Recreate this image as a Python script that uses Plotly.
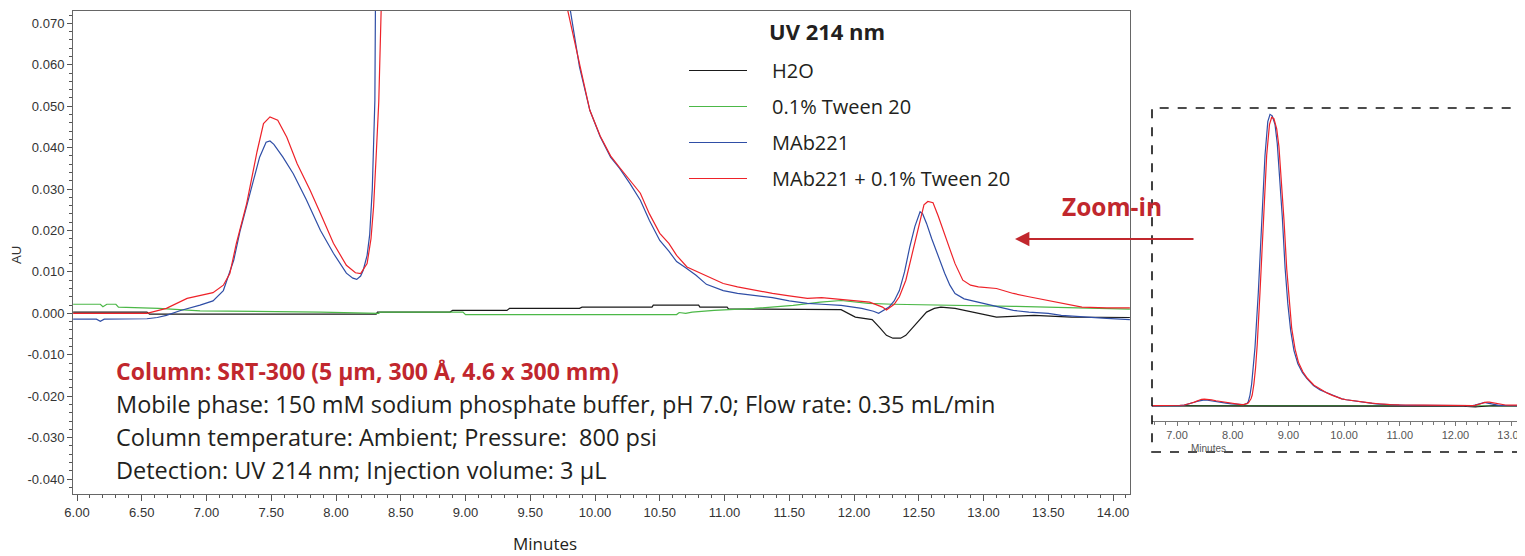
import plotly.graph_objects as go

# ---------------- data ----------------
h2o_t = [5.97, 6.54, 6.56, 8.31, 8.32, 8.88, 8.90, 9.32, 9.34, 9.88, 9.90, 10.44, 10.45, 10.80,
         10.81, 11.02, 11.03, 11.90, 12.01, 12.14, 12.20, 12.25, 12.30, 12.36, 12.40, 12.45,
         12.49, 12.56, 12.62, 12.67, 12.78, 12.96, 13.10, 13.39, 13.68, 14.13]
h2o_au = [0.0003, 0.0003, -0.0002, -0.0002, 0.0003, 0.0003, 0.0007, 0.0007, 0.0012, 0.0012,
          0.0015, 0.0015, 0.0020, 0.0020, 0.0015, 0.0015, 0.0011, 0.0009, -0.0009, -0.0015,
          -0.0035, -0.0053, -0.0060, -0.0060, -0.0053, -0.0035, -0.0020, 0.0003, 0.0012,
          0.0015, 0.0012, 0.0000, -0.0009, -0.0005, -0.0009, -0.0010]

tween_t = [5.97, 6.18, 6.20, 6.23, 6.30, 6.32, 6.63, 6.95, 7.88, 8.25, 8.33, 8.34, 8.98, 9.00,
           10.63, 10.65, 10.70, 10.75, 10.92, 11.23, 11.53, 11.74, 11.90, 12.11, 12.30, 13.23,
           13.76, 14.13]
tween_au = [0.0022, 0.0022, 0.0016, 0.0022, 0.0022, 0.0015, 0.0012, 0.0006, 0.0003, 0.0000,
            0.0000, 0.0003, 0.0003, -0.0003, -0.0003, 0.0002, 0.0000, 0.0003, 0.0007, 0.0012,
            0.0019, 0.0027, 0.0031, 0.0024, 0.0022, 0.0017, 0.0012, 0.0010]

mab_t = [5.97, 6.15, 6.18, 6.21, 6.54, 6.62, 6.69, 6.80, 6.95, 7.05, 7.13, 7.21, 7.26, 7.31,
         7.36, 7.41, 7.46, 7.49, 7.52, 7.59, 7.67, 7.77, 7.88, 7.98, 8.08, 8.13, 8.16, 8.19,
         8.21, 8.24, 8.26, 8.28, 8.30, 8.31, 8.34, 8.37, 8.40, 8.46, 8.52, 8.58, 8.63, 8.67,
         8.71, 8.76, 8.80, 8.85, 8.89, 8.94, 8.99, 9.04, 9.10, 9.17, 9.25, 9.33, 9.45, 9.57,
         9.70, 9.81, 9.88, 9.96, 10.04, 10.12, 10.19, 10.27, 10.35, 10.42, 10.50, 10.57,
         10.63, 10.70, 10.78, 10.86, 10.99, 11.10, 11.25, 11.37, 11.50, 11.64, 11.75, 11.90,
         12.06, 12.15, 12.19, 12.23, 12.27, 12.31, 12.35, 12.39, 12.43, 12.47, 12.51, 12.53,
         12.56, 12.60, 12.64, 12.70, 12.74, 12.78, 12.85, 12.96, 13.10, 13.23, 13.35, 13.50,
         13.60, 13.76, 13.95, 14.13]
mab_au = [-0.0014, -0.0014, -0.0019, -0.0014, -0.0013, -0.0010, -0.0005, 0.0007, 0.0020,
          0.0030, 0.0055, 0.0128, 0.0200, 0.0257, 0.0320, 0.0377, 0.0413, 0.0416, 0.0408,
          0.0377, 0.0337, 0.0275, 0.0200, 0.0145, 0.0097, 0.0085, 0.0082, 0.0090, 0.0104,
          0.0140, 0.0190, 0.0300, 0.0514, 0.0750, 0.15, 0.26, 0.40, 0.78, 1.28, 1.72, 1.95,
          2.00, 1.99, 1.93, 1.80, 1.55, 1.30, 0.95, 0.70, 0.52, 0.38, 0.29, 0.23, 0.19, 0.14,
          0.11, 0.088, 0.073, 0.0595, 0.0490, 0.0426, 0.0377, 0.0350, 0.0313, 0.0273, 0.0224,
          0.0176, 0.0150, 0.0125, 0.0110, 0.0092, 0.0070, 0.0055, 0.0048, 0.0042, 0.0038,
          0.0030, 0.0024, 0.0022, 0.0019, 0.0012, 0.0005, 0.0000, 0.0008, 0.0015, 0.0030,
          0.0055, 0.0100, 0.0160, 0.0210, 0.0245, 0.0240, 0.0217, 0.0180, 0.0145, 0.0097,
          0.0068, 0.0048, 0.0035, 0.0027, 0.0015, 0.0007, 0.0003, 0.0000, -0.0005, -0.0009,
          -0.0012, -0.0015]

mabtw_t = [5.97, 6.54, 6.69, 6.85, 7.05, 7.13, 7.18, 7.23, 7.31, 7.39, 7.44, 7.49, 7.55, 7.62,
           7.70, 7.80, 7.88, 7.98, 8.08, 8.15, 8.19, 8.24, 8.27, 8.29, 8.31, 8.33, 8.35, 8.38,
           8.41, 8.44, 8.49, 8.55, 8.61, 8.66, 8.70, 8.74, 8.79, 8.83, 8.88, 8.92, 8.97, 9.02,
           9.06, 9.12, 9.18, 9.26, 9.34, 9.46, 9.58, 9.70, 9.79, 9.88, 9.96, 10.04, 10.12,
           10.19, 10.27, 10.35, 10.42, 10.50, 10.57, 10.63, 10.71, 10.83, 10.99, 11.10, 11.25,
           11.37, 11.50, 11.64, 11.75, 11.90, 12.12, 12.22, 12.25, 12.31, 12.35, 12.40, 12.43,
           12.47, 12.51, 12.54, 12.57, 12.61, 12.65, 12.70, 12.74, 12.78, 12.84, 12.90, 12.96,
           13.10, 13.23, 13.35, 13.50, 13.65, 13.76, 13.95, 14.13]
mabtw_au = [0.0000, 0.0000, 0.0012, 0.0036, 0.0050, 0.0068, 0.0096, 0.0168, 0.0265, 0.0390,
            0.0458, 0.0474, 0.0466, 0.0425, 0.0361, 0.0297, 0.0241, 0.0169, 0.0116, 0.0098,
            0.0096, 0.0120, 0.0180, 0.0257, 0.0380, 0.0510, 0.0750, 0.15, 0.26, 0.42, 0.78,
            1.26, 1.72, 1.93, 1.98, 1.97, 1.90, 1.78, 1.52, 1.28, 0.94, 0.70, 0.53, 0.39, 0.30,
            0.235, 0.19, 0.142, 0.112, 0.088, 0.073, 0.0600, 0.0490, 0.0428, 0.0380, 0.0352,
            0.0320, 0.0290, 0.0240, 0.0193, 0.0169, 0.0140, 0.0112, 0.0095, 0.0072, 0.0064,
            0.0055, 0.0048, 0.0042, 0.0036, 0.0038, 0.0034, 0.0027, 0.0015, 0.0008, 0.0022,
            0.0040, 0.0080, 0.0120, 0.0170, 0.0225, 0.0262, 0.0270, 0.0267, 0.0235, 0.0193,
            0.0155, 0.0120, 0.0080, 0.0068, 0.0064, 0.0060, 0.0048, 0.0040, 0.0031, 0.0022,
            0.0015, 0.0013, 0.0013]

series_names = ["H2O", "0.1% Tween 20", "MAb221", "MAb221 + 0.1% Tween 20"]
series_colors = ["#1a1a1a", "#4cb848", "#2f4ea6", "#ee2229"]

main_xticks = [6.0 + 0.5 * i for i in range(17)]
main_yticks = [-0.04, -0.03, -0.02, -0.01, 0.0, 0.01, 0.02, 0.03, 0.04, 0.05, 0.06, 0.07]
inset_xticks = [7, 8, 9, 10, 11, 12, 13]

info_lines = [
    "Mobile phase: 150 mM sodium phosphate buffer, pH 7.0; Flow rate: 0.35 mL/min",
    "Column temperature: Ambient; Pressure:  800 psi",
    "Detection: UV 214 nm; Injection volume: 3 µL",
]
column_line = "Column: SRT-300 (5 µm, 300 Å, 4.6 x 300 mm)"

# ---------------- figure ----------------
# the page body adds an 8 px margin, so the figure is 8 px smaller and
# all page-pixel positions are shifted by 8 px
OFF = 8
W, H = 1525 - OFF, 556 - OFF
def fx(p):
    return (p - OFF) / W
def fy(p):
    return 1 - (p - OFF) / H

RED = "#c1272d"
TXT = "#231f20"
FONT = "Open Sans"

fig = go.Figure()
all_t = [h2o_t, tween_t, mab_t, mabtw_t]
all_y = [h2o_au, tween_au, mab_au, mabtw_au]

for i, (t, y) in enumerate(zip(all_t, all_y)):
    fig.add_trace(go.Scatter(x=t, y=y, mode="lines", name="\u2003" + series_names[i],
                             legendgroup=f"g{i}",
                             line=dict(color=series_colors[i], width=1.2),
                             xaxis="x", yaxis="y"))
for i in [1, 0, 2, 3]:
    fig.add_trace(go.Scatter(x=all_t[i], y=all_y[i], mode="lines", name=series_names[i],
                             showlegend=False,
                             line=dict(color=series_colors[i], width=1.2),
                             xaxis="x2", yaxis="y2"))

tickfont = dict(family="Liberation Sans", size=13, color="#333333")

fig.update_layout(
    width=W, height=H,
    margin=dict(l=0, r=0, t=0, b=0, autoexpand=False),
    paper_bgcolor="white", plot_bgcolor="white",
    showlegend=True,
    legend=dict(x=fx(684), y=fy(51), xanchor="left", yanchor="top",
                font=dict(family=FONT, size=20, color=TXT),
                bgcolor="rgba(0,0,0,0)", borderwidth=0,
                tracegroupgap=7, itemwidth=58),
    xaxis=dict(domain=[fx(73), fx(1130)], range=[5.969, 14.131], automargin=False,
               tickmode="array", tickvals=main_xticks,
               ticktext=[f"{v:.2f}" for v in main_xticks],
               ticks="outside", ticklen=6, tickcolor="#555555",
               minor=dict(dtick=0.1, tick0=6.0, ticks="outside", ticklen=3, tickcolor="#555555"),
               showline=True, linecolor="#666666", linewidth=1, mirror=True,
               showgrid=False, zeroline=False, tickfont=tickfont, anchor="y"),
    yaxis=dict(domain=[fy(494), fy(11)], range=[-0.0436, 0.07297], automargin=False,
               tickmode="array", tickvals=main_yticks,
               ticktext=[f"{v:.3f}" for v in main_yticks],
               ticks="outside", ticklen=5, tickcolor="#555555",
               minor=dict(dtick=0.002, tick0=0, ticks="outside", ticklen=3, tickcolor="#555555"),
               showline=True, linecolor="#666666", linewidth=1, mirror=True,
               showgrid=False, zeroline=False, tickfont=tickfont, anchor="x"),
    xaxis2=dict(domain=[fx(1152), 1.0], range=[6.55, 13.25], automargin=False,
                tickmode="array", tickvals=inset_xticks,
                ticktext=[f"{v:.2f}" for v in inset_xticks],
                ticks="outside", ticklen=4, tickcolor="#777777",
                minor=dict(dtick=0.2, tick0=7, ticks="outside", ticklen=3, tickcolor="#777777"),
                showline=True, linecolor="#777777", linewidth=1,
                showgrid=False, zeroline=False,
                tickfont=dict(family="Liberation Sans", size=11, color="#555555"),
                anchor="y2"),
    yaxis2=dict(domain=[fy(421), fy(110)], range=[-0.103, 2.03], automargin=False,
                visible=False, anchor="x2"),
)

def ann(text, x, y, size, color=TXT, family=FONT, xanchor="center", **kw):
    return dict(text=text, x=fx(x), y=fy(y), xref="paper", yref="paper", showarrow=False,
                xanchor=xanchor, yanchor="middle",
                font=dict(family=family, size=size, color=color), **kw)

annotations = [
    ann("AU", 16, 255, 13, color="#333333", family="Liberation Sans", textangle=-90),
    ann("Minutes", 545, 543, 17),
    ann("<b>UV 214 nm</b>", 767, 31, 22, xanchor="left"),
    ann(f"<b>{column_line}</b>", 114, 371, 23, color=RED, xanchor="left"),
    ann("<b>Zoom-in</b>", 1112, 207, 24.5, color=RED),
    ann("Minutes", 1208, 448, 10, color="#555555", family="Liberation Sans"),
    dict(text="", x=fx(1015), y=fy(239), xref="paper", yref="paper", showarrow=True,
         ax=180, ay=0, arrowhead=2, arrowsize=1.6, arrowwidth=1.8, arrowcolor=RED),
]
for k, line in enumerate(info_lines):
    annotations.append(ann(line, 114, 404 + 33 * k, 23.5, xanchor="left"))
fig.update_layout(annotations=annotations)

fig.add_shape(type="rect", xref="paper", yref="paper",
              x0=fx(1152), x1=1.02, y0=fy(452), y1=fy(108),
              line=dict(color="#111111", width=1.6, dash="dash"))

fig.write_html("out.html")
